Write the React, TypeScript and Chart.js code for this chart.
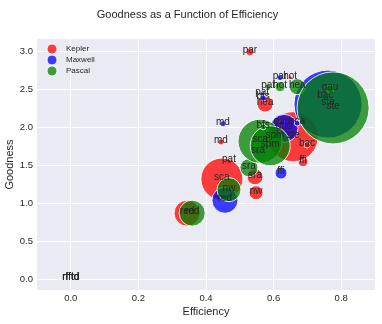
import React, { useEffect, useRef } from "react";
import { Chart, registerables, BubbleController } from "chart.js";

Chart.register(...registerables);
// keep the plot area independent of bubble sizes (as in the reference)
(BubbleController.prototype as any).getMaxOverflow = function () {
  return 0;
};

const title = "Goodness as a Function of Efficiency";
const xTitle = "Efficiency";
const yTitle = "Goodness";
const xTicks = [0, 0.2, 0.4, 0.6, 0.8];
const yTicks = [0, 0.5, 1.0, 1.5, 2.0, 2.5, 3.0];
const seriesNames = ["Kepler", "Maxwell", "Pascal"];
const seriesColors = ["rgba(255,0,0,0.75)", "rgba(0,0,255,0.75)", "rgba(0,128,0,0.75)"];

const keplerLabels = ["par", "hot", "hea", "md", "pat", "sca", "sra", "nw", "red", "ffi", "ste", "bac", "gau", "rfftd"];
const keplerEff = [0.53, 0.649, 0.575, 0.444, 0.468, 0.447, 0.545, 0.548, 0.344, 0.687, 0.658, 0.699, 0.625, 0];
const keplerGood = [3.0, 2.66, 2.31, 1.81, 1.56, 1.32, 1.35, 1.14, 0.87, 1.55, 1.88, 1.77, 2.06, 0];
const keplerSize = [4, 2, 8, 3, 3, 21, 8, 7, 13, 5, 25, 3, 3, 0];

const maxwellLabels = ["md", "par", "pat", "bfs", "red", "ffi", "gau", "sca", "spm", "sra", "bac", "ste", "rfftd"];
const maxwellEff = [0.45, 0.619, 0.566, 0.569, 0.456, 0.622, 0.631, 0.67, 0.604, 0.554, 0.753, 0.761, 0];
const maxwellGood = [2.05, 2.66, 2.44, 2.39, 1.04, 1.4, 1.99, 2.06, 1.88, 1.68, 2.4, 2.31, 0];
const maxwellSize = [3, 3, 2, 3, 13, 6, 14, 3, 3, 3, 3, 34, 0];

const pascalLabels = ["red", "nw", "sra", "pat", "hot", "hea", "sca", "spm", "bfs", "gau", "ste", "rfftd"];
const pascalEff = [0.359, 0.468, 0.527, 0.584, 0.619, 0.67, 0.56, 0.59, 0.569, 0.767, 0.776, 0];
const pascalGood = [0.87, 1.18, 1.47, 2.54, 2.54, 2.54, 1.82, 1.76, 2.01, 2.51, 2.26, 0];
const pascalSize = [13, 12, 9, 3, 5, 8, 22, 20, 3, 4, 36, 0];

const FONT = "'Liberation Sans', Arial, sans-serif";
const TEXT = "#262626";

function pts(xs: number[], ys: number[], rs: number[]) {
  return xs.map((x, i) => ({ x, y: ys[i], r: rs[i] }));
}

const allLabels = [keplerLabels, maxwellLabels, pascalLabels];

const bgPlugin = {
  id: "bg",
  beforeDraw(chart: any) {
    const { ctx, chartArea: a } = chart;
    ctx.save();
    ctx.fillStyle = "#EAEAF2";
    ctx.fillRect(a.left, a.top, a.right - a.left, a.bottom - a.top);
    ctx.restore();
  },
};

const labelPlugin = {
  id: "pointLabels",
  afterDatasetsDraw(chart: any) {
    const { ctx, chartArea: a } = chart;
    ctx.save();
    ctx.font = `10px ${FONT}`;
    ctx.fillStyle = TEXT;
    ctx.textAlign = "center";
    ctx.textBaseline = "alphabetic";
    chart.data.datasets.forEach((ds: any, di: number) => {
      const meta = chart.getDatasetMeta(di);
      meta.data.forEach((el: any, i: number) => {
        ctx.fillText(allLabels[di][i], el.x, el.y + 1);
      });
    });
    ctx.restore();
  },
};

const legendPlugin = {
  id: "customLegend",
  afterDraw(chart: any) {
    const { ctx } = chart;
    ctx.save();
    ctx.font = `8px ${FONT}`;
    ctx.textBaseline = "middle";
    ctx.textAlign = "left";
    seriesNames.forEach((name, i) => {
      const y = 49 + i * 11;
      ctx.beginPath();
      ctx.arc(52, y, 5, 0, Math.PI * 2);
      ctx.fillStyle = seriesColors[i];
      ctx.fill();
      ctx.strokeStyle = "rgba(255,255,255,0.9)";
      ctx.lineWidth = 1;
      ctx.stroke();
      ctx.fillStyle = TEXT;
      ctx.fillText(name, 66, y);
    });
    ctx.restore();
  },
};

export default function App() {
  const ref = useRef<HTMLCanvasElement | null>(null);
  useEffect(() => {
    document.body.style.margin = "0";
    const canvas = ref.current!;
    const mk = (i: number, data: any[], order: number) => ({
      label: seriesNames[i],
      data,
      backgroundColor: seriesColors[i],
      borderColor: "rgba(255,255,255,0.85)",
      borderWidth: 1,
      hoverBorderWidth: 1,
      order,
    });
    const chart = new Chart(canvas, {
      type: "bubble",
      data: {
        datasets: [
          mk(0, pts(keplerEff, keplerGood, keplerSize), 2),
          mk(1, pts(maxwellEff, maxwellGood, maxwellSize), 1),
          mk(2, pts(pascalEff, pascalGood, pascalSize), 0),
        ],
      },
      options: {
        responsive: false,
        animation: false,
        events: [],
        layout: { padding: { left: 0, right: 7, top: 0, bottom: 0 } },
        plugins: {
          legend: { display: false },
          tooltip: { enabled: false },
          title: {
            display: true,
            text: title,
            color: TEXT,
            font: { family: FONT, size: 11, weight: "normal" },
            padding: { top: 8, bottom: 17.8 },
          },
        },
        scales: {
          x: {
            type: "linear",
            min: -0.1,
            max: 0.9,
            afterBuildTicks: (s: any) => {
              s.ticks = xTicks.map((v) => ({ value: v }));
            },
            afterFit: (s: any) => {
              s.height = 34;
            },
            ticks: {
              color: TEXT,
              font: { family: FONT, size: 9.5 },
              padding: 3,
              callback: (v: any) => Number(v).toFixed(1),
            },
            grid: { color: "#ffffff", lineWidth: 1, drawTicks: false },
            border: { display: false },
            title: {
              display: true,
              text: xTitle,
              color: TEXT,
              font: { family: FONT, size: 11 },
              padding: { top: 0, bottom: 5.4 },
            },
          },
          y: {
            type: "linear",
            min: -0.145,
            max: 3.17,
            afterBuildTicks: (s: any) => {
              s.ticks = yTicks.map((v) => ({ value: v }));
            },
            afterFit: (s: any) => {
              s.width = 37;
            },
            ticks: {
              color: TEXT,
              font: { family: FONT, size: 9.5 },
              padding: 4,
              callback: (v: any) => Number(v).toFixed(1),
            },
            grid: { color: "#ffffff", lineWidth: 1, drawTicks: false },
            border: { display: false },
            title: {
              display: true,
              text: yTitle,
              color: TEXT,
              font: { family: FONT, size: 11 },
              padding: { top: 3.4, bottom: 0 },
            },
          },
        },
      },
      plugins: [bgPlugin, labelPlugin, legendPlugin],
    } as any);
    return () => chart.destroy();
  }, []);
  return (
    <div style={{ width: 382, height: 324, background: "#fff" }}>
      <canvas ref={ref} width={382} height={324} style={{ display: "block" }} />
    </div>
  );
}
